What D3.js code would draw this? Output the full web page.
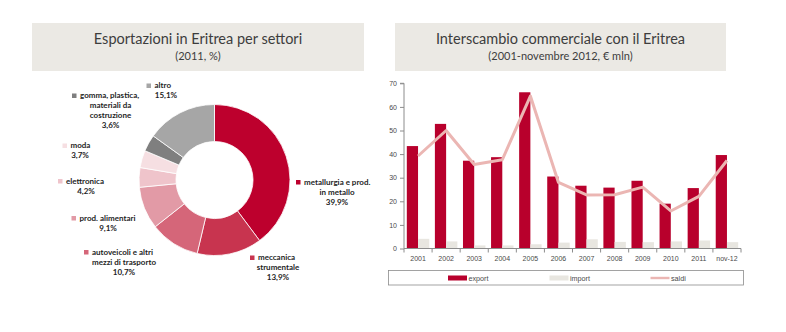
<!DOCTYPE html>
<html>
<head>
<meta charset="utf-8">
<script src="https://cdn.jsdelivr.net/npm/d3@7"></script>
<style>
  body { margin: 0; background: #fff; }
  svg { display: block; }
  .lbl { font-family: Lato, sans-serif; font-size: 8px; font-weight: bold; fill: #1e1e1e; }
  .ttl { font-family: Lato, sans-serif; fill: #3d3d3d; }
  .axis text { font-family: "Liberation Sans", Arial, sans-serif; font-size: 7px; fill: #4a4a4a; }
</style>
</head>
<body>
<svg id="chart" width="786" height="332"></svg>
<script>
// ---- left: export shares by sector (2011, %)
const sectors = [
  ["metallurgia e prod.", "in metallo"],
  ["meccanica", "strumentale"],
  ["autoveicoli e altri", "mezzi di trasporto"],
  ["prod. alimentari"],
  ["elettronica"],
  ["moda"],
  ["gomma, plastica,", "materiali da", "costruzione"],
  ["altro"]
];
const shares = [39.9, 13.9, 10.7, 9.1, 4.2, 3.7, 3.6, 15.1];
const shareLabels = ["39,9%", "13,9%", "10,7%", "9,1%", "4,2%", "3,7%", "3,6%", "15,1%"];
const sectorColors = ["#bd002d", "#c8344f", "#d56679", "#e29aa6", "#efc4cb", "#f6dfe2", "#7f7f7f", "#a6a6a6"];

// ---- right: trade with Eritrea (€ mln)
const years = ["2001", "2002", "2003", "2004", "2005", "2006", "2007", "2008", "2009", "2010", "2011", "nov-12"];
const exportVals = [43.4, 52.8, 37.2, 38.7, 66.2, 30.5, 26.6, 25.8, 28.7, 19.0, 25.6, 39.6];
const importVals = [4.1, 3.0, 1.3, 1.3, 1.8, 2.5, 3.9, 2.8, 2.7, 3.0, 3.4, 2.7];
const saldiVals = [39.2, 50.0, 35.6, 37.6, 64.6, 28.0, 22.7, 22.8, 26.0, 15.9, 22.1, 37.3];
const yTicks = [0, 10, 20, 30, 40, 50, 60, 70];
const seriesNames = ["export", "import", "saldi"];

// label anchor points (square position) for the donut labels
const labelPos = [
  {sx: 296, sy: 180, cx: 337},
  {sx: 250, sy: 255.5, cx: 278},
  {sx: 84, sy: 250, cx: 124},
  {sx: 71.5, sy: 216, cx: 108},
  {sx: 58, sy: 179, cx: 86},
  {sx: 62.5, sy: 143.5, cx: 80},
  {sx: 72, sy: 93.5, cx: 110.5},
  {sx: 146.5, sy: 83.5, cx: 166}
];

const svg = d3.select("#chart");

// title boxes
function titleBox(x0, x1, title, sub) {
  svg.append("rect").attr("x", x0).attr("y", 23).attr("width", x1 - x0).attr("height", 48)
    .attr("fill", "#ebe9e4");
  svg.append("text").attr("class", "ttl").attr("x", (x0 + x1) / 2).attr("y", 44.3)
    .attr("text-anchor", "middle").style("font-size", "14.5px").text(title);
  svg.append("text").attr("class", "ttl").attr("x", (x0 + x1) / 2).attr("y", 60.3)
    .attr("text-anchor", "middle").style("font-size", "11px").text(sub);
}
titleBox(32, 364, "Esportazioni in Eritrea per settori", "(2011, %)");
titleBox(395, 726, "Interscambio commerciale con il Eritrea", "(2001-novembre 2012, € mln)");

// donut
const cx = 214.5, cy = 180;
const pie = d3.pie().sort(null).value(d => d);
const arc = d3.arc().innerRadius(38.5).outerRadius(75.5);
svg.append("g").attr("transform", `translate(${cx},${cy})`)
  .selectAll("path")
  .data(pie(shares))
  .join("path")
  .attr("d", arc)
  .attr("fill", (d, i) => sectorColors[i])
  .attr("stroke", "#fff")
  .attr("stroke-width", 0.8);

// donut labels
sectors.forEach((lines, i) => {
  const p = labelPos[i];
  svg.append("rect").attr("x", p.sx).attr("y", p.sy).attr("width", 4.5).attr("height", 4.5)
    .attr("fill", sectorColors[i]);
  const g = svg.append("text").attr("class", "lbl");
  g.append("tspan").attr("x", p.sx + 8).attr("y", p.sy + 4.8).text(lines[0]);
  lines.slice(1).concat([shareLabels[i]]).forEach((t, k) => {
    g.append("tspan").attr("x", p.cx).attr("y", p.sy + 4.8 + 10 * (k + 1))
      .attr("text-anchor", "middle").text(t);
  });
});

// bar chart
const plotL = 404, plotR = 741, plotT = 83.3, plotB = 248.5;
const x = d3.scaleBand().domain(years).range([plotL, plotR]).paddingInner(0.2).paddingOuter(0.1);
const xb = d3.scaleBand().domain([0, 1]).range([0, x.bandwidth()]);
const y = d3.scaleLinear().domain([0, 70]).range([plotB, plotT]);

const bars = svg.append("g");
bars.selectAll(".exp").data(exportVals).join("rect")
  .attr("x", (d, i) => x(years[i]) + xb(0)).attr("width", xb.bandwidth())
  .attr("y", d => y(d)).attr("height", d => y(0) - y(d)).attr("fill", "#b8002c");
bars.selectAll(".imp").data(importVals).join("rect")
  .attr("x", (d, i) => x(years[i]) + xb(1)).attr("width", xb.bandwidth())
  .attr("y", d => y(d)).attr("height", d => y(0) - y(d)).attr("fill", "#e8e6e0");

const line = d3.line()
  .x((d, i) => x(years[i]) + x.bandwidth() / 2)
  .y(d => y(d));
svg.append("path").datum(saldiVals).attr("d", line)
  .attr("fill", "none").attr("stroke", "#ebb6b3").attr("stroke-width", 3)
  .attr("stroke-linejoin", "round");

// y axis
const yAxis = svg.append("g").attr("class", "axis").attr("transform", `translate(${plotL},0)`)
  .call(d3.axisLeft(y).tickValues(yTicks).tickSize(4).tickPadding(3));
yAxis.select(".domain").attr("stroke", "#8c8c8c").attr("d", `M-4,${y(70)}H0V${y(0)}`);
yAxis.selectAll(".tick line").attr("stroke", "#8c8c8c");

// x axis: labels centered, ticks on category boundaries
const xAxis = svg.append("g").attr("class", "axis").attr("transform", `translate(0,${plotB})`)
  .call(d3.axisBottom(x).tickSize(0).tickPadding(8));
xAxis.select(".domain").attr("stroke", "#8c8c8c").attr("d", `M${plotL},0H${plotR}`);
const bounds = d3.range(years.length + 1).map(i => plotL + i * x.step());
xAxis.selectAll(".bound").data(bounds).join("line")
  .attr("x1", d => d).attr("x2", d => d).attr("y1", 0).attr("y2", 4)
  .attr("stroke", "#8c8c8c");

// legend
svg.append("rect").attr("x", 388.5).attr("y", 270.5).attr("width", 355).attr("height", 14.5)
  .attr("fill", "#fff").attr("stroke", "#8c8c8c").attr("stroke-width", 0.8);
const legX = [448, 549.5, 650.5];
const legend = svg.append("g").selectAll("g").data(seriesNames).join("g")
  .attr("transform", (d, i) => `translate(${legX[i]},278)`);
legend.append("rect").attr("x", 0).attr("width", 19)
  .attr("y", (d, i) => i === 2 ? -1.2 : -2.5).attr("height", (d, i) => i === 2 ? 2.4 : 5)
  .attr("fill", (d, i) => ["#b8002c", "#e8e6e0", "#ebb6b3"][i]);
legend.append("text").attr("x", 20.5).attr("y", 2.5)
  .style("font-family", "'Liberation Sans', Arial, sans-serif").style("font-size", "7.2px")
  .attr("fill", "#4a4a4a").text(d => d);
</script>
</body>
</html>
